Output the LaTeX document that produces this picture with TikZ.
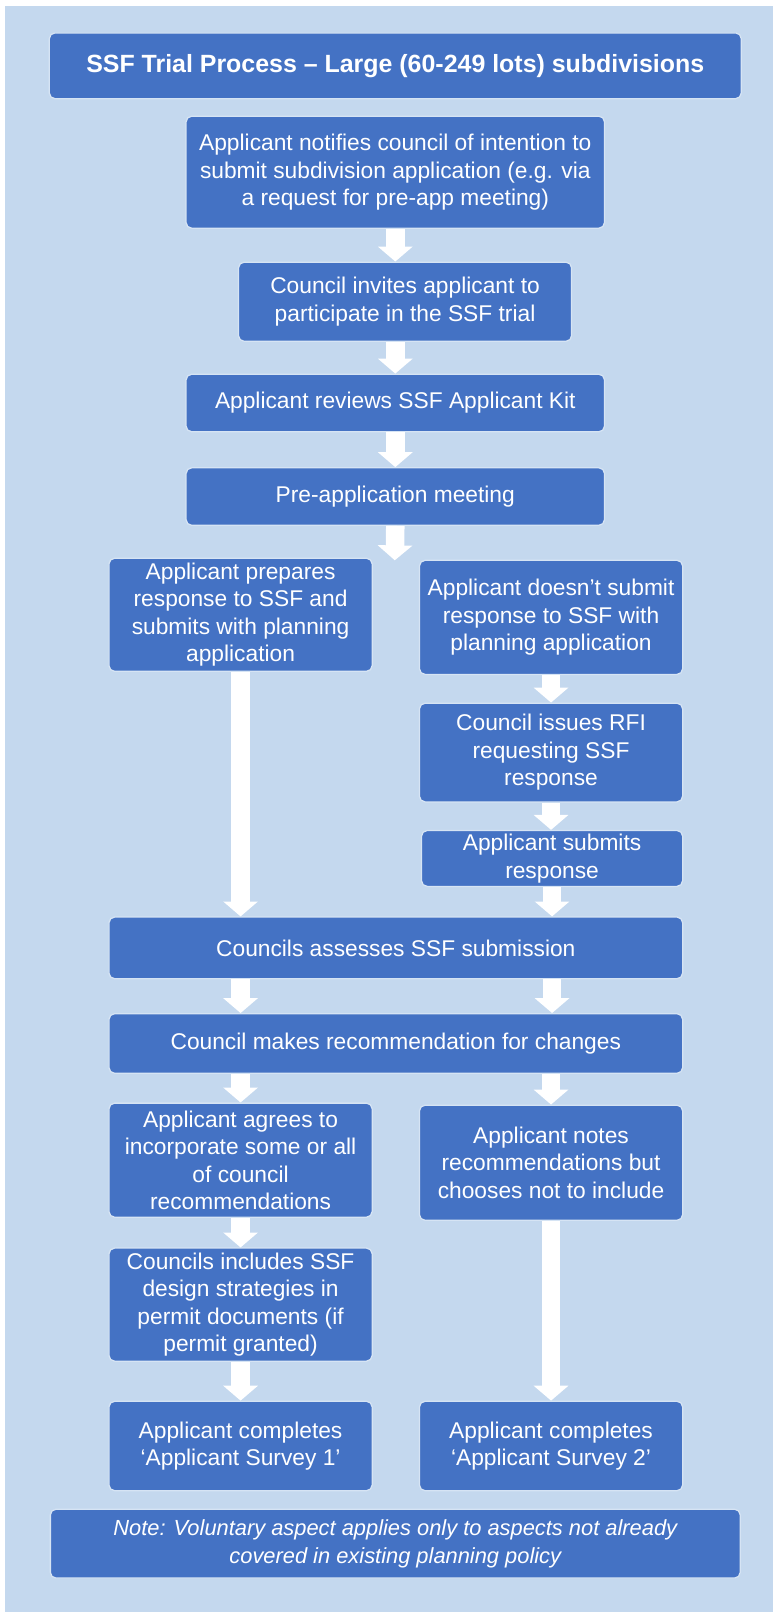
\documentclass[tikz,border=0pt]{standalone}
\usepackage{fontspec}
\setmainfont{Liberation Sans}
\usepackage{xcolor}
\usepackage{tikz}
\usetikzlibrary{arrows.meta,positioning}
\definecolor{ssfblue}{RGB}{68,114,196}
\definecolor{ssfedge}{RGB}{214,228,244}
\definecolor{ssfback}{RGB}{196,216,238}

\begin{document}
\begin{tikzpicture}[
  x=0.2mm, y=-0.2mm,
  block/.style 2 args={draw=ssfedge, line width=0.7pt, fill=ssfblue, rounded corners=1.1mm,
                text=white, align=center, inner sep=2pt,
                font=\fontsize{12.6}{15.2}\selectfont,
                minimum width=#1, minimum height=#2},
  flow/.style={draw=white, line width=3.6mm, -{Triangle[width=6.6mm,length=2.9mm]}},
]
  % ---- Background ----
  \useasboundingbox (0,0) rectangle (752,1568);
  \fill[white] (0,0) rectangle (752,1568);
  \fill[ssfback] (5,6) rectangle (752,1568);

  % ---- Top (single column) ----
  \node[block={134.6mm}{12.8mm}, font=\fontsize{13.8}{16}\selectfont\bfseries] (title) at (384.5,64)
    {SSF Trial Process -- Large (60-249 lots) subdivisions};
  \node[block={81.4mm}{21.8mm}] (ntf) at (384.5,167.5)
    {Applicant notifies council of intention to\\submit subdivision application (e.g. via\\a request for pre-app meeting)};
  \node[block={64.8mm}{15.4mm}] (inv) at (394,293.5)
    {Council invites applicant to\\participate in the SSF trial};
  \node[block={81.4mm}{11.2mm}] (kit) at (384.5,392)
    {Applicant reviews SSF Applicant Kit};
  \node[block={81.4mm}{11.2mm}] (pre) at (384.5,483)
    {Pre-application meeting};
  \coordinate (split) at (384,545);

  % ---- Two branches ----
  \node[block={51.2mm}{22mm}] (prep) at (234,598)
    {Applicant prepares\\response to SSF and\\submits with planning\\application};
  \node[block={51.2mm}{22.2mm}] (nos) at (536,600.5)
    {Applicant doesn’t submit\\response to SSF with\\planning application};
  \node[block={51.2mm}{19.2mm}] (rfi) at (536,732)
    {Council issues RFI\\requesting SSF\\response};
  \node[block={50.8mm}{10.8mm}] (sub) at (537,835)
    {Applicant submits\\response};

  % ---- Assessment ----
  \node[block={111.6mm}{12mm}] (ass) at (385,922)
    {Councils assesses SSF submission};
  \node[block={111.6mm}{11.6mm}] (rec) at (385,1015)
    {Council makes recommendation for changes};

  % ---- Outcomes ----
  \node[block={51.2mm}{22.2mm}] (agr) at (234,1128.5)
    {Applicant agrees to\\incorporate some or all\\of council\\recommendations};
  \node[block={51.2mm}{22.4mm}] (nts) at (536,1131)
    {Applicant notes\\recommendations but\\chooses not to include};
  \node[block={51.2mm}{22mm}] (inc) at (234,1269)
    {Councils includes SSF\\design strategies in\\permit documents (if\\permit granted)};
  \node[block={51.2mm}{17.4mm}] (sv1) at (234,1406.5)
    {Applicant completes\\‘Applicant Survey 1’};
  \node[block={51.2mm}{17.4mm}] (sv2) at (536,1406.5)
    {Applicant completes\\‘Applicant Survey 2’};
  \node[block={134.2mm}{13.4mm}, font=\fontsize{12.1}{15.2}\selectfont\itshape] (note) at (384.5,1501.5)
    {Note: Voluntary aspect applies only to aspects not already\\covered in existing planning policy};

  % ---- Arrows (top chain) ----
  \draw[flow] (ntf.south) -- (ntf.south |- inv.north);
  \draw[flow] (inv.south -| ntf.south) -- (kit.north);
  \draw[flow] (kit.south) -- (pre.north);
  \draw[flow] (pre.south) -- (split);

  % ---- Arrows (branches) ----
  \draw[flow] (prep.south) -- (prep.south |- ass.north);
  \draw[flow] (nos.south) -- (rfi.north);
  \draw[flow] (rfi.south) -- (rfi.south |- sub.north);
  \draw[flow] (sub.south) -- (sub.south |- ass.north);
  \draw[flow] (ass.south -| prep.south) -- (rec.north -| prep.south);
  \draw[flow] (ass.south -| sub.south) -- (rec.north -| sub.south);

  % ---- Arrows (outcomes) ----
  \draw[flow] (rec.south -| agr.north) -- (agr.north);
  \draw[flow] (rec.south -| nts.north) -- (nts.north);
  \draw[flow] (agr.south) -- (inc.north);
  \draw[flow] (inc.south) -- (sv1.north);
  \draw[flow] (nts.south) -- (sv2.north);
\end{tikzpicture}
\end{document}
